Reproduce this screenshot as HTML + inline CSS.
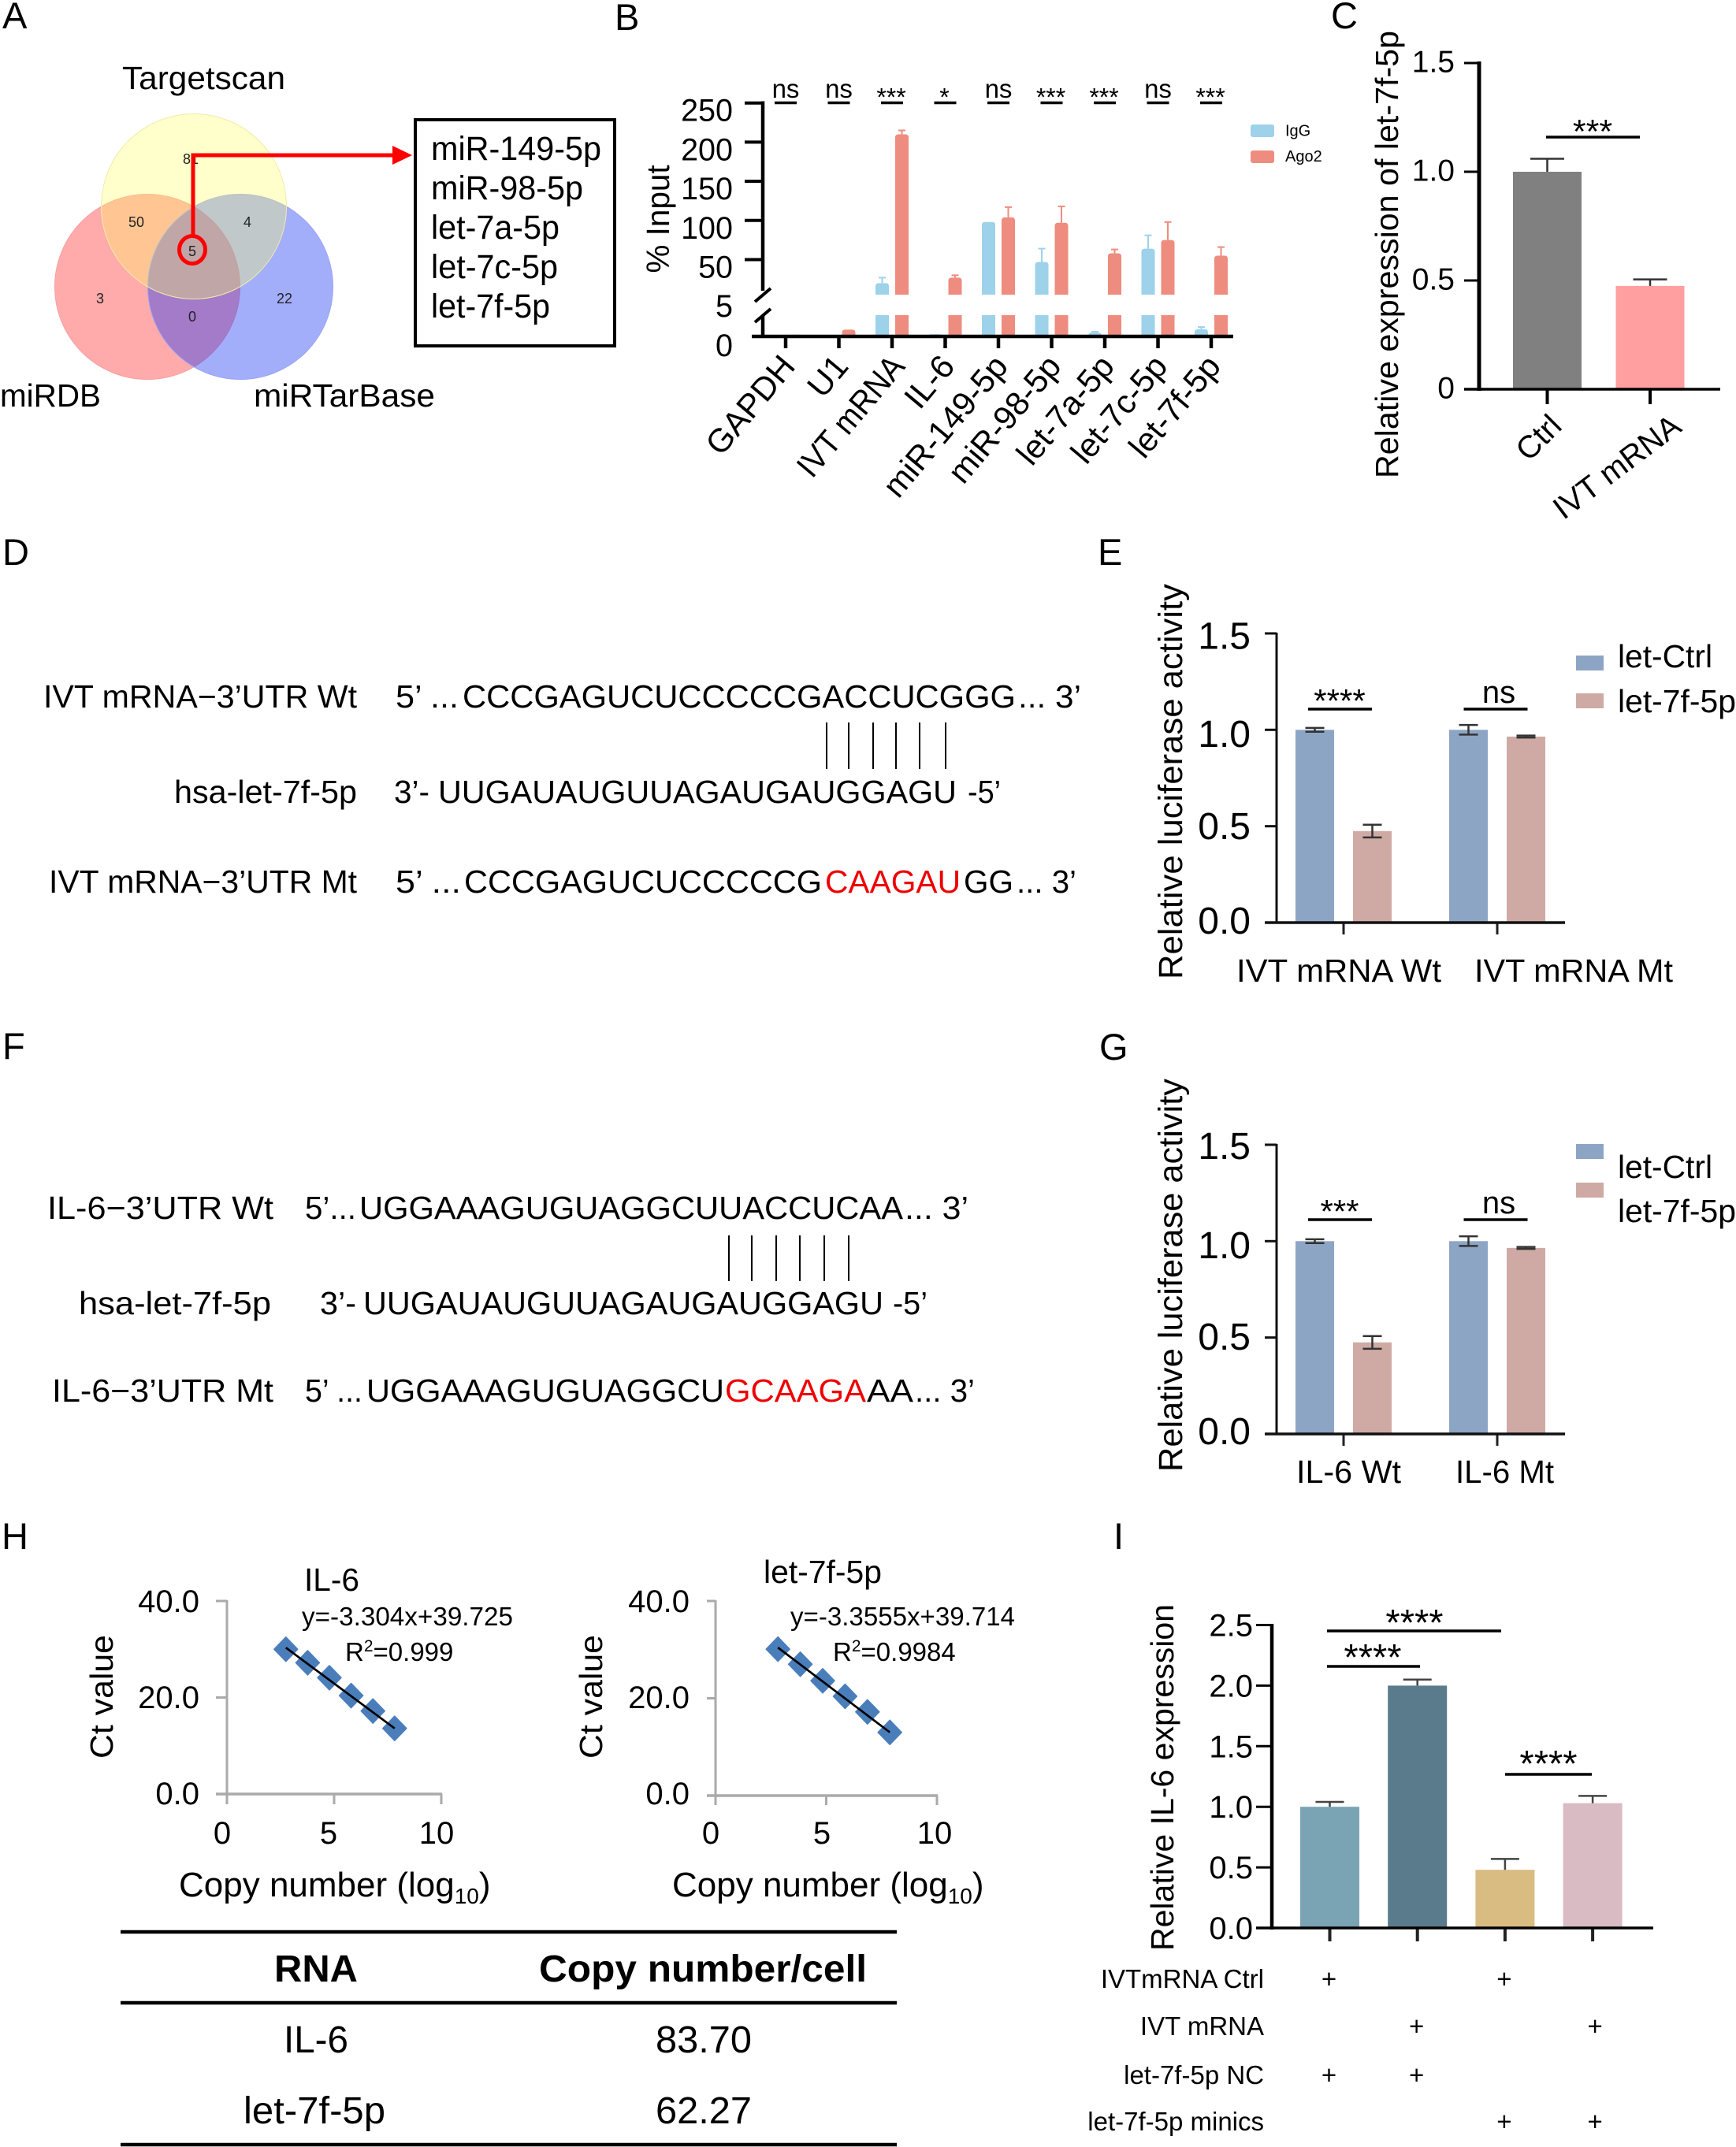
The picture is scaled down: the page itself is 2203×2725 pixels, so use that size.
<!DOCTYPE html>
<html lang="en">
<head>
<meta charset="utf-8">
<title>Multi-panel figure</title>
<style>
html,body{margin:0;padding:0;background:#fff;}
svg{display:block;font-family:"Liberation Sans",sans-serif;fill:#000;}
.pl{font-size:47px;}
.seq{font-size:41px;}
.eq{font-size:33px;}
</style>
</head>
<body>
<svg id="fig" xmlns="http://www.w3.org/2000/svg" width="2203" height="2725" viewBox="0 0 2203 2725">
<rect width="2203" height="2725" fill="#fff"/>
<text class="pl" x="3" y="36">A</text>
<text class="pl" x="780" y="38">B</text>
<text class="pl" x="1689" y="36">C</text>
<text class="pl" x="3" y="717">D</text>
<text class="pl" x="1393" y="717">E</text>
<text class="pl" x="3" y="1344">F</text>
<text class="pl" x="1395" y="1345">G</text>
<text class="pl" x="2" y="1966">H</text>
<text class="pl" x="1413" y="1966">I</text>

<g>
<circle cx="187" cy="364" r="117.5" fill="rgb(255,0,0)" fill-opacity=".33" stroke="#f7a0a0" stroke-width="1"/>
<circle cx="305" cy="364" r="117.5" fill="rgb(25,52,245)" fill-opacity=".4" stroke="#98a4f5" stroke-width="1"/>
<circle cx="246" cy="262" r="117.5" fill="rgb(255,255,100)" fill-opacity=".33" stroke="#f1eba8" stroke-width="1"/>
<g font-size="18" text-anchor="middle" fill="#222">
<text x="242" y="208">81</text>
<text x="173" y="288">50</text>
<text x="314" y="288">4</text>
<text x="244" y="325">5</text>
<text x="127" y="385">3</text>
<text x="361" y="385">22</text>
<text x="244" y="408">0</text>
</g>
<ellipse cx="244" cy="317" rx="16.5" ry="17.5" fill="none" stroke="#f00" stroke-width="5"/>
<path d="M245 298V197H500" fill="none" stroke="#f00" stroke-width="5"/>
<path d="M498 185L523 197L498 209Z" fill="#f00"/>
<text x="155" y="113" font-size="41" textLength="207" lengthAdjust="spacingAndGlyphs">Targetscan</text>
<text x="0" y="516" font-size="41" textLength="128" lengthAdjust="spacingAndGlyphs">miRDB</text>
<text x="322" y="516" font-size="41" textLength="230" lengthAdjust="spacingAndGlyphs">miRTarBase</text>
<rect x="527" y="152" width="253" height="287" fill="none" stroke="#000" stroke-width="4"/>
<g font-size="43">
<text x="547" y="203" textLength="216" lengthAdjust="spacingAndGlyphs">miR-149-5p</text>
<text x="547" y="253" textLength="193" lengthAdjust="spacingAndGlyphs">miR-98-5p</text>
<text x="547" y="303" textLength="163" lengthAdjust="spacingAndGlyphs">let-7a-5p</text>
<text x="547" y="353" textLength="161" lengthAdjust="spacingAndGlyphs">let-7c-5p</text>
<text x="547" y="403" textLength="151" lengthAdjust="spacingAndGlyphs">let-7f-5p</text>
</g>
</g>

<g class="seq">
<text x="55" y="898" textLength="398" lengthAdjust="spacingAndGlyphs">IVT mRNA−3’UTR Wt</text>
<text x="502" y="898" textLength="80" lengthAdjust="spacingAndGlyphs">5’ ...</text>
<text x="587" y="898" textLength="702" lengthAdjust="spacingAndGlyphs">CCCGAGUCUCCCCCGACCUCGGG</text>
<text x="1292" y="898" textLength="80" lengthAdjust="spacingAndGlyphs">... 3’</text>
<text x="221" y="1019" textLength="232" lengthAdjust="spacingAndGlyphs">hsa-let-7f-5p</text>
<text x="500" y="1019" textLength="45" lengthAdjust="spacingAndGlyphs">3’-</text>
<text x="556" y="1019" textLength="658" lengthAdjust="spacingAndGlyphs">UUGAUAUGUUAGAUGAUGGAGU</text>
<text x="1228" y="1019" textLength="42" lengthAdjust="spacingAndGlyphs">-5’</text>
<text x="62" y="1133" textLength="391" lengthAdjust="spacingAndGlyphs">IVT mRNA−3’UTR Mt</text>
<text x="502" y="1133" textLength="83" lengthAdjust="spacingAndGlyphs">5’ ...</text>
<text x="589" y="1133" textLength="454" lengthAdjust="spacingAndGlyphs">CCCGAGUCUCCCCCG</text>
<text x="1047" y="1133" textLength="172" lengthAdjust="spacingAndGlyphs" fill="#e00">CAAGAU</text>
<text x="1223" y="1133" textLength="63" lengthAdjust="spacingAndGlyphs">GG</text>
<text x="1290" y="1133" textLength="76" lengthAdjust="spacingAndGlyphs">... 3’</text>
<path d="M1049 917V976M1077 917V976M1108 917V976M1137 917V976M1167 917V976M1200 917V976" stroke="#000" stroke-width="2" fill="none"/>
</g>

<g class="seq">
<text x="60" y="1547" textLength="287" lengthAdjust="spacingAndGlyphs">IL-6−3’UTR Wt</text>
<text x="387" y="1547" textLength="65" lengthAdjust="spacingAndGlyphs">5’...</text>
<text x="456" y="1547" textLength="690" lengthAdjust="spacingAndGlyphs">UGGAAAGUGUAGGCUUACCUCAA</text>
<text x="1148" y="1547" textLength="81" lengthAdjust="spacingAndGlyphs">... 3’</text>
<text x="100" y="1668" textLength="244" lengthAdjust="spacingAndGlyphs">hsa-let-7f-5p</text>
<text x="406" y="1668" textLength="46" lengthAdjust="spacingAndGlyphs">3’-</text>
<text x="461" y="1668" textLength="660" lengthAdjust="spacingAndGlyphs">UUGAUAUGUUAGAUGAUGGAGU</text>
<text x="1133" y="1668" textLength="44" lengthAdjust="spacingAndGlyphs">-5’</text>
<text x="66" y="1779" textLength="281" lengthAdjust="spacingAndGlyphs">IL-6−3’UTR Mt</text>
<text x="387" y="1779" textLength="73" lengthAdjust="spacingAndGlyphs">5’ ...</text>
<text x="465" y="1779" textLength="454" lengthAdjust="spacingAndGlyphs">UGGAAAGUGUAGGCU</text>
<text x="920" y="1779" textLength="179" lengthAdjust="spacingAndGlyphs" fill="#e00">GCAAGA</text>
<text x="1100" y="1779" textLength="59" lengthAdjust="spacingAndGlyphs">AA</text>
<text x="1161" y="1779" textLength="76" lengthAdjust="spacingAndGlyphs">... 3’</text>
<path d="M925 1568V1626M954 1568V1626M985 1568V1626M1015 1568V1626M1046 1568V1626M1077 1568V1626" stroke="#000" stroke-width="2" fill="none"/>
</g>

<g>
<text x="386" y="2019" font-size="41" textLength="70" lengthAdjust="spacingAndGlyphs">IL-6</text>
<text class="eq" x="383" y="2063" textLength="268" lengthAdjust="spacingAndGlyphs">y=-3.304x+39.725</text>
<text class="eq" x="438" y="2108">R<tspan font-size="21" dy="-12">2</tspan><tspan dy="12">=0.999</tspan></text>
<text x="227" y="2407" font-size="44">Copy number (log<tspan font-size="28" dy="9">10</tspan><tspan dy="-9">)</tspan></text>
<text x="969" y="2009" font-size="41" textLength="150" lengthAdjust="spacingAndGlyphs">let-7f-5p</text>
<text class="eq" x="1003" y="2063" textLength="285" lengthAdjust="spacingAndGlyphs">y=-3.3555x+39.714</text>
<text class="eq" x="1057" y="2108">R<tspan font-size="21" dy="-12">2</tspan><tspan dy="12">=0.9984</tspan></text>
<text x="853" y="2407" font-size="44">Copy number (log<tspan font-size="28" dy="9">10</tspan><tspan dy="-9">)</tspan></text>
</g>

<g>
<path d="M153 2452H1138M153 2542H1138M153 2722H1138" stroke="#000" stroke-width="4.5" fill="none"/>
<text x="348" y="2515" font-size="48" font-weight="bold" textLength="106" lengthAdjust="spacingAndGlyphs">RNA</text>
<text x="684" y="2515" font-size="48" font-weight="bold" textLength="416" lengthAdjust="spacingAndGlyphs">Copy number/cell</text>
<text x="360" y="2605" font-size="48" textLength="82" lengthAdjust="spacingAndGlyphs">IL-6</text>
<text x="832" y="2605" font-size="48" textLength="122" lengthAdjust="spacingAndGlyphs">83.70</text>
<text x="309" y="2695" font-size="48" textLength="180" lengthAdjust="spacingAndGlyphs">let-7f-5p</text>
<text x="832" y="2695" font-size="48" textLength="122" lengthAdjust="spacingAndGlyphs">62.27</text>
</g>
</svg>

<script>
// ---------- Panel B data ----------
const bCategories = ['GAPDH','U1','IVT mRNA','IL-6','miR-149-5p','miR-98-5p','let-7a-5p','let-7c-5p','let-7f-5p'];
const bIgG = [0, 0.3, 20, 0.5, 98, 47, 0.9, 64, 1.7];
const bIgGErr = [0, 0, 7, 0, 0, 17, 0.2, 17, 0.5];
const bAgo2 = [0.4, 1.6, 210, 27, 104, 97, 58, 75, 55];
const bAgo2Err = [0, 0, 5, 3, 13, 21, 5, 23, 11];
const bSig = ['ns','ns','***','*','ns','***','***','ns','***'];
const bTicks = [250,200,150,100,50];
const bSeriesNames = ['IgG','Ago2'];
// ---------- Panel C data ----------
const cCategories = ['Ctrl','IVT mRNA'];
const cValues = [1.0, 0.475];
const cErrors = [0.06, 0.03];
const cTicks = [1.5, 1.0, 0.5, 0];
// ---------- Panels E / G data ----------
const eCategories = ['IVT mRNA Wt','IVT mRNA Mt'];
const gCategories = ['IL-6 Wt','IL-6 Mt'];
const lucSeriesNames = ['let-Ctrl','let-7f-5p'];
const eCtrl = [1.0, 1.0];
const eLet7f = [0.475, 0.965];
const eCtrlErr = [0.01, 0.025];
const eLet7fErr = [0.033, 0.005];
const eSig = ['****','ns'];
const gCtrl = [1.0, 1.0];
const gLet7f = [0.475, 0.965];
const gCtrlErr = [0.01, 0.025];
const gLet7fErr = [0.033, 0.005];
const gSig = ['***','ns'];
const lucTicks = [1.5, 1.0, 0.5, 0.0];
// ---------- Panel H data ----------
const hLog = [3,4,5,6,7,8];
const hIl6Ct = [30.0, 27.2, 24.1, 20.4, 17.2, 13.6];
const hLetCt = [30.1, 27.0, 23.6, 20.4, 17.2, 13.0];
const hYTicks = [40, 20, 0];
const hXTicks = [0, 5, 10];
// ---------- Panel I data ----------
const iValues = [1.0, 2.0, 0.48, 1.03];
const iErrors = [0.04, 0.05, 0.09, 0.06];
const iTicks = [2.5, 2.0, 1.5, 1.0, 0.5, 0.0];
const iRowLabels = ['IVTmRNA Ctrl','IVT mRNA','let-7f-5p NC','let-7f-5p minics'];
const iRowFlags = [[1,0,1,0],[0,1,0,1],[1,1,0,0],[0,0,1,1]];

const NS = 'http://www.w3.org/2000/svg';
const fig = document.getElementById('fig');

function group(name){
  const el = document.createElementNS(NS,'g');
  
  
  fig.appendChild(el);
  return el;
}
function line(p,x1,y1,x2,y2,color,w,name){
  const el = document.createElementNS(NS,'line');
  el.setAttribute('x1',x1); el.setAttribute('y1',y1);
  el.setAttribute('x2',x2); el.setAttribute('y2',y2);
  el.setAttribute('stroke',color); el.setAttribute('stroke-width',w);
  
  
  p.appendChild(el);
  return el;
}
function box(p,x,y,w,h,fill,name,rx){
  const el = document.createElementNS(NS,'rect');
  el.setAttribute('x',x); el.setAttribute('y',y);
  el.setAttribute('width',w); el.setAttribute('height',Math.max(0,h));
  el.setAttribute('fill',fill);
  if(rx) el.setAttribute('rx',rx);
  
  
  p.appendChild(el);
  return el;
}
function txt(p,x,y,s,size,anchor,name,opt){
  opt = opt || {};
  const el = document.createElementNS(NS,'text');
  el.setAttribute('x',x); el.setAttribute('y',y);
  el.setAttribute('font-size',size);
  el.setAttribute('text-anchor',anchor||'start');
  if(opt.len){ el.setAttribute('textLength',opt.len); el.setAttribute('lengthAdjust','spacingAndGlyphs'); }
  if(opt.rot!==undefined) el.setAttribute('transform','rotate('+opt.rot+' '+x+' '+y+')');
  el.textContent = s;
  
  
  p.appendChild(el);
  return el;
}
function sigBar(p,x1,x2,yy,w,name){ return line(p,x1,yy,x2,yy,'#000',w,name); }
function stars(p,cx,cy,s,size,name,opt){ return txt(p,cx,cy+0.48*size,s,size,'middle',name,opt); }
function errBar(p,cx,yTop,yBot,capW,color,w,name){
  line(p,cx,yTop,cx,yBot,color,w,name+'-stem');
  line(p,cx-capW/2,yTop,cx+capW/2,yTop,color,w,name+'-cap');
}

// ========== Panel B ==========
(function(){
  const g = group('rip-bar-chart');
  const up = v => 329.5-(v-50)*0.994;
  const low = v => 427-v*5.4;
  const yb = v => v>5 ? up(v) : low(v);
  const xt = i => 997+67.5*i;
  const cols = ['#9dd2ea','#ee8c7f'];
  function bar(cx,v,col,name){
    const w=17, x=cx-w/2, r=4;
    const make = (y0,y1) => {
      const el = document.createElementNS(NS,'path');
      const rr = Math.min(r,(y0-y1));
      el.setAttribute('d','M'+x+' '+y0+'V'+(y1+rr)+'Q'+x+' '+y1+' '+(x+rr)+' '+y1+'H'+(x+w-rr)+'Q'+(x+w)+' '+y1+' '+(x+w)+' '+(y1+rr)+'V'+y0+'Z');
      el.setAttribute('fill',col);
      
      
      g.appendChild(el);
    };
    if(v>5){
      box(g,x,400,w,27,col,name+'-lower');
      make(374,up(v));
    } else if(v>0){
      make(427,low(v));
    }
  }
  bCategories.forEach((c,i)=>{
    const cx=xt(i);
    bar(cx-12.5,bIgG[i],cols[0],'bar-igg-'+c);
    bar(cx+12.5,bAgo2[i],cols[1],'bar-ago2-'+c);
    if(bIgGErr[i]>0) errBar(g,cx-12.5,yb(bIgG[i]+bIgGErr[i]),yb(bIgG[i]),9,cols[0],2,'error-igg-'+c);
    if(bAgo2Err[i]>0) errBar(g,cx+12.5,yb(bAgo2[i]+bAgo2Err[i]),yb(bAgo2[i]),9,cols[1],2,'error-ago2-'+c);
    line(g,cx,427,cx,442,'#000',4.5,'x-tick');
    sigBar(g,cx-14,cx+14,130.5,3.5,'significance-bar');
    if(bSig[i]==='ns') txt(g,cx,124,'ns',33,'middle','significance-label');
    else stars(g,cx-1,119,bSig[i],32,'significance-label');
    if(c==='IVT mRNA') txt(g,cx+18,466,c,42,'end','x-tick-label',{rot:-50,len:186});
    else txt(g,cx+14,466,c,42,'end','x-tick-label',{rot:-50});
  });
  line(g,968,128.5,968,369,'#000',4.5,'y-axis-upper');
  line(g,968,401,968,429,'#000',4.5,'y-axis-lower');
  line(g,958,383,978,366,'#000',4,'axis-break-top');
  line(g,958,409,978,392,'#000',4,'axis-break-bottom');
  line(g,954,427,1565,427,'#000',4.5,'x-axis');
  bTicks.forEach(t=>{
    line(g,945,up(t),968,up(t),'#000',4,'y-tick');
    txt(g,930,up(t)+23,String(t),39.5,'end','y-tick-label');
  });
  txt(g,930,402,'5',39.5,'end','y-tick-label');
  txt(g,930,452,'0',39.5,'end','y-tick-label');
  txt(g,849,278,'% Input',40.5,'middle','y-axis-title',{rot:-90});
  box(g,1587,158,30,16,cols[0],'legend-swatch-igg',3);
  box(g,1587,191,30,16,cols[1],'legend-swatch-ago2',3);
  txt(g,1631,172.5,bSeriesNames[0],20,'start','legend-label-igg');
  txt(g,1631,205,bSeriesNames[1],20,'start','legend-label-ago2');
})();

// ========== Panel C ==========
(function(){
  const g = group('let7f-expression-chart');
  const y = v => 494-v*276;
  const cxs = i => 1963.5+130.5*i;
  const cols = ['#808080','#ff9f9f'];
  const anchors = [[1984,543,-45],[2136,546,-37]];
  cCategories.forEach((c,i)=>{
    const cx=cxs(i);
    box(g,cx-43.5,y(cValues[i]),87,494-y(cValues[i]),cols[i],'bar-'+c);
    errBar(g,cx,y(cValues[i]+cErrors[i]),y(cValues[i]),43,'#333',2.5,'error-'+c);
    line(g,cx,494,cx,513,'#000',4,'x-tick');
    txt(g,anchors[i][0],anchors[i][1],c,40,'end','x-tick-label',{rot:anchors[i][2]});
  });
  line(g,1877,78,1877,496,'#000',5,'y-axis');
  line(g,1858,494,2183,494,'#000',3.5,'x-axis');
  cTicks.forEach((t,i)=>{
    line(g,1858,y(t),1877,y(t),'#000',3,'y-tick');
    txt(g,1846,y(t)+11.5,t===0?'0':t.toFixed(1),39,'end','y-tick-label');
  });
  txt(g,1774,607,'Relative expression of let-7f-5p',41,'start','y-axis-title',{rot:-90,len:568});
  sigBar(g,1962,2081,174,3.5,'significance-bar');
  stars(g,2021,161,'***',43,'significance-label');
})();

// ========== Panels E / G ==========
function lucChart(name,top,cats,ctrl,let7f,ctrlErr,letErr,sig,cfg){
  const g = group(name);
  const base = top+367;
  const y = v => base-v*244.7;
  const cols = ['#8da5c5','#cfaaa5'];
  const xt = i => 1705+195*i;
  cats.forEach((c,i)=>{
    const a=xt(i)-36.5, b=xt(i)+36.5;
    box(g,a-24.5,y(ctrl[i]),49,base-y(ctrl[i]),cols[0],'bar-ctrl-'+c);
    box(g,b-24.5,y(let7f[i]),49,base-y(let7f[i]),cols[1],'bar-let7f-'+c);
    [[a,ctrl[i],ctrlErr[i]],[b,let7f[i],letErr[i]]].forEach(e=>{
      line(g,e[0],y(e[1]+e[2]),e[0],y(e[1]-e[2]),'#333',2.5,'error-stem');
      line(g,e[0]-12,y(e[1]+e[2]),e[0]+12,y(e[1]+e[2]),'#333',2.5,'error-cap-top');
      line(g,e[0]-12,y(e[1]-e[2]),e[0]+12,y(e[1]-e[2]),'#333',2.5,'error-cap-bottom');
    });
    line(g,xt(i),base,xt(i),base+15,'#222',3,'x-tick');
    const lab=cfg.xLabels[i];
    txt(g,lab[0],cfg.xBase,c,41,'start','x-tick-label',{len:lab[1]});
    const lx=i===0?1700.5:1898;
    sigBar(g,lx-40.5,lx+40.5,cfg.sigY,3.5,'significance-bar');
    if(sig[i]==='ns') txt(g,cfg.nsX,cfg.nsBase,'ns',40,'middle','significance-label');
    else stars(g,1700,cfg.starY,sig[i],42,'significance-label');
  });
  line(g,1620,top-1,1620,base+1,'#111',3,'y-axis');
  line(g,1605,base,1986,base,'#111',3.5,'x-axis');
  lucTicks.forEach((t,i)=>{
    line(g,1605,y(t),1620,y(t),'#111',3,'y-tick');
    txt(g,1587,cfg.labelBase[i],t.toFixed(1),48,'end','y-tick-label');
  });
  txt(g,1500,cfg.titleStart,'Relative  luciferase activity',43,'start','y-axis-title',{rot:-90,len:cfg.titleLen});
  box(g,2000,cfg.leg[0],35,19,cols[0],'legend-swatch-ctrl');
  box(g,2000,cfg.leg[1],35,19,cols[1],'legend-swatch-let7f');
  txt(g,2053,cfg.leg[2],lucSeriesNames[0],41,'start','legend-label-ctrl',{len:120});
  txt(g,2053,cfg.leg[3],lucSeriesNames[1],41,'start','legend-label-let7f',{len:150});
}
lucChart('luciferase-chart-e',804,eCategories,eCtrl,eLet7f,eCtrlErr,eLet7fErr,eSig,{
  xLabels:[[1569,260],[1871,252]],xBase:1246,sigY:900,nsX:1902,nsBase:892,starY:884,
  labelBase:[823.5,948,1065,1185],titleStart:1243,titleLen:502,leg:[832,880,847,904]});
lucChart('luciferase-chart-g',1453,gCategories,gCtrl,gLet7f,gCtrlErr,gLet7fErr,gSig,{
  xLabels:[[1645,133],[1847,125]],xBase:1882,sigY:1548,nsX:1902,nsBase:1540,starY:1532,
  labelBase:[1471,1597,1713,1833],titleStart:1868,titleLen:499,leg:[1452,1501,1495,1551]});

// ========== Panel H ==========
function ctChart(name,cfg,logs,cts){
  const g = group(name);
  const y = v => cfg.y0-v*cfg.yk;
  const px = v => cfg.px0+cfg.pxk*v;
  const ax = v => cfg.ax0+cfg.axk*v;
  line(g,ax(0),y(40)-1,ax(0),cfg.bot,'#aaa',3,'y-axis');
  line(g,cfg.tick,cfg.y0,ax(10)+1,cfg.y0,'#aaa',3.5,'x-axis');
  hYTicks.forEach(t=>{
    line(g,cfg.tick,y(t),ax(0),y(t),'#aaa',3,'y-tick');
    txt(g,cfg.lr,cfg.yLab[String(t)],t.toFixed(1),40,'end','y-tick-label');
  });
  hXTicks.forEach((t,i)=>{
    line(g,ax(t),cfg.y0,ax(t),cfg.bot,'#aaa',3,'x-tick');
    txt(g,cfg.xLab[i],2340,String(t),40,'middle','x-tick-label');
  });
  logs.forEach((l,i)=>{
    const el = document.createElementNS(NS,'path');
    const cx=px(l), cy=y(cts[i]);
    el.setAttribute('d','M'+cx+' '+(cy-15.5)+'L'+(cx+15)+' '+cy+'L'+cx+' '+(cy+15.5)+'L'+(cx-15)+' '+cy+'Z');
    el.setAttribute('fill','#4a7ebb');
    el.setAttribute('stroke','#4a7ebb');
    el.setAttribute('stroke-width','1.5');
    el.setAttribute('stroke-linejoin','round');
    
    
    g.appendChild(el);
  });
  const n=logs.length-1;
  line(g,px(logs[0]),y(cts[0])-2,px(logs[n]),y(cts[n]),'#000',2.7,'trend-line');
  txt(g,cfg.tb,2232,'Ct value',41,'start','y-axis-title',{rot:-90,len:157});
}
ctChart('standard-curve-il6',{y0:2277,yk:6.125,px0:280,pxk:27.6,ax0:288,axk:27.2,bot:2290,tick:274,lr:253,
  yLab:{'40':2046,'20':2168,'0':2290},xLab:[282,417,554],tb:143},hLog,hIl6Ct);
ctChart('standard-curve-let7f',{y0:2279,yk:6.175,px0:902,pxk:28.4,ax0:908,axk:28.1,bot:2291,tick:897,lr:875,
  yLab:{'40':2046,'20':2168,'0':2290},xLab:[902,1043,1186],tb:764},hLog,hLetCt);

// ========== Panel I ==========
(function(){
  const g = group('il6-expression-chart');
  const y = v => 2447-v*153.8;
  const xt = i => 1687.5+111.2*i;
  const cols = ['#7aa3b3','#5a7b8b','#d9bc82','#d9bbc3'];
  iValues.forEach((v,i)=>{
    const cx=xt(i);
    box(g,cx-37.5,y(v),75,2447-y(v),cols[i],'bar-group-'+(i+1));
    errBar(g,cx,y(v+iErrors[i]),y(v),36,'#444',2.5,'error-group-'+(i+1));
    line(g,cx,2447,cx,2464,'#222',4,'x-tick');
  });
  line(g,1614,2061,1614,2449,'#000',4.5,'y-axis');
  line(g,1594,2447,2098,2447,'#000',3.5,'x-axis');
  iTicks.forEach(t=>{
    line(g,1594,y(t),1614,y(t),'#000',3,'y-tick');
    txt(g,1590,y(t)+14,t.toFixed(1),40,'end','y-tick-label');
  });
  txt(g,1489,2476,'Relative  IL-6 expression',41,'start','y-axis-title',{rot:-90,len:440});
  sigBar(g,1684,1905,2070,3.5,'significance-bar');
  stars(g,1795,2053,'****',47,'significance-label');
  sigBar(g,1684,1802,2115,3.5,'significance-bar');
  stars(g,1742,2097,'****',47,'significance-label');
  sigBar(g,1910,2020,2252,3.5,'significance-bar');
  stars(g,1965,2232,'****',47,'significance-label');
  const rowBase=[2523,2583,2645,2704];
  iRowLabels.forEach((l,r)=>{
    txt(g,1604,rowBase[r],l,33,'end','treatment-label');
    iRowFlags[r].forEach((f,c)=>{
      if(f) txt(g,xt(c)+(c===3?3:-1),rowBase[r],'+',33,'middle','treatment-plus');
    });
  });
})();
</script>
</body>
</html>
